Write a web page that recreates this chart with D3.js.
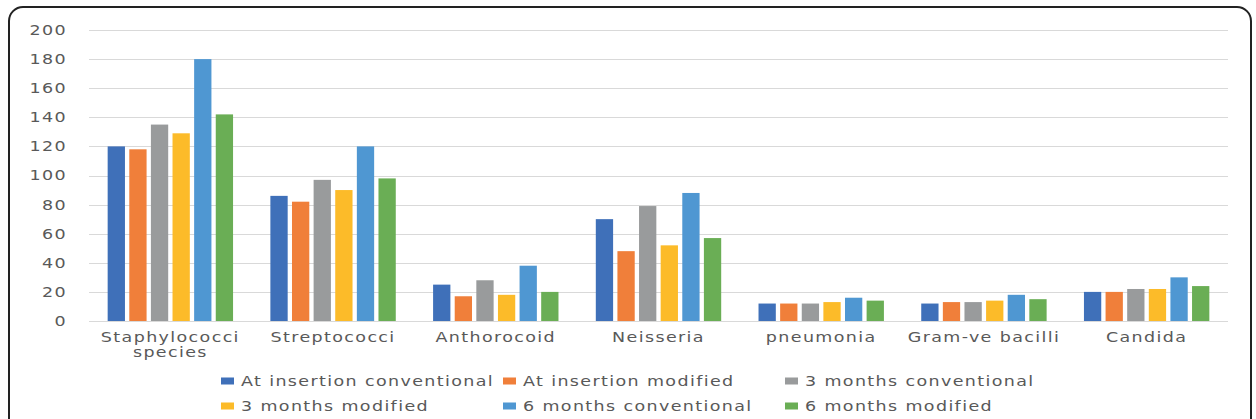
<!DOCTYPE html>
<html>
<head>
<meta charset="utf-8">
<script src="https://cdn.jsdelivr.net/npm/d3@7"></script>
<style>
  html, body { margin: 0; padding: 0; background: #fff; }
  svg { display: block; }
  text { font-family: "DejaVu Sans", sans-serif; fill: #595959; }
</style>
</head>
<body>
<svg id="chart" width="1256" height="419"></svg>
<script>
// Organisms isolated, grouped by organism, one bar per sampling time / technique
const categories = [
  ["Staphylococci", "species"],
  ["Streptococci"],
  ["Anthorocoid"],
  ["Neisseria"],
  ["pneumonia"],
  ["Gram-ve bacilli"],
  ["Candida"]
];
const seriesNames = [
  "At insertion conventional",
  "At insertion modified",
  "3 months conventional",
  "3 months modified",
  "6 months conventional",
  "6 months modified"
];
const atInsertionConventional = [120, 86, 25, 70, 12, 12, 20];
const atInsertionModified     = [118, 82, 17, 48, 12, 13, 20];
const threeMonthsConventional = [135, 97, 28, 79, 12, 13, 22];
const threeMonthsModified     = [129, 90, 18, 52, 13, 14, 22];
const sixMonthsConventional   = [180, 120, 38, 88, 16, 18, 30];
const sixMonthsModified       = [142, 98, 20, 57, 14, 15, 24];
const yTicks = [0, 20, 40, 60, 80, 100, 120, 140, 160, 180, 200];

const seriesValues = [
  atInsertionConventional, atInsertionModified,
  threeMonthsConventional, threeMonthsModified,
  sixMonthsConventional, sixMonthsModified
];
const colors = ["#3f70b9", "#f07f3a", "#999b9c", "#fcbb29", "#4f97d2", "#6aae55"];

// Wide lettering: glyphs are stretched horizontally
const stretch = 1.25;
const fontSize = 14;
const spacing = "1.1px";

const svg = d3.select("#chart");

// Rounded frame around the whole figure
svg.append("rect")
  .attr("x", 9).attr("y", 7)
  .attr("width", 1242).attr("height", 440)
  .attr("rx", 14).attr("ry", 14)
  .attr("fill", "none")
  .attr("stroke", "#222")
  .attr("stroke-width", 2);

const plot = { left: 89, right: 1228, top: 30, bottom: 321 };

const y = d3.scaleLinear().domain([0, 200]).range([plot.bottom, plot.top]);
const x0 = d3.scaleBand()
  .domain(d3.range(categories.length))
  .range([plot.left, plot.right])
  .padding(0);
const groupGap = 33;
const x1 = d3.scaleBand()
  .domain(d3.range(seriesNames.length))
  .range([groupGap / 2, x0.bandwidth() - groupGap / 2])
  .paddingInner(0.2)
  .paddingOuter(0.1);

// Horizontal gridlines
svg.append("g")
  .selectAll("line")
  .data(yTicks)
  .join("line")
  .attr("x1", plot.left).attr("x2", plot.right)
  .attr("y1", d => Math.round(y(d)) + 0.5)
  .attr("y2", d => Math.round(y(d)) + 0.5)
  .attr("stroke", "#d9d9d9")
  .attr("stroke-width", 1.2);

// Y axis labels
const yAxis = svg.append("g")
  .attr("transform", `translate(${plot.left - 22},0)`)
  .call(d3.axisLeft(y).tickValues(yTicks).tickSize(0).tickPadding(0));
yAxis.select(".domain").remove();
yAxis.selectAll("text")
  .attr("x", 0)
  .attr("font-size", fontSize)
  .attr("letter-spacing", spacing)
  .attr("font-family", "DejaVu Sans, sans-serif")
  .attr("fill", "#595959")
  .attr("transform", `scale(${stretch},1)`);

// Bars
const groups = svg.append("g")
  .selectAll("g")
  .data(categories.map((c, i) => i))
  .join("g")
  .attr("transform", i => `translate(${x0(i)},0)`);

groups.selectAll("rect")
  .data(i => seriesValues.map((vals, s) => ({ s, v: vals[i] })))
  .join("rect")
  .attr("x", d => x1(d.s))
  .attr("width", x1.bandwidth())
  .attr("y", d => y(d.v))
  .attr("height", d => y(0) - y(d.v))
  .attr("fill", d => colors[d.s]);

// Category labels
const catLabels = svg.append("g")
  .selectAll("g")
  .data(categories)
  .join("g")
  .attr("transform", (c, i) => `translate(${x0(i) + x0.bandwidth() / 2},342) scale(${stretch},1)`)
  .append("text")
  .attr("text-anchor", "middle")
  .attr("font-size", fontSize)
  .attr("letter-spacing", spacing)
  .attr("fill", "#595959");
catLabels.selectAll("tspan")
  .data(c => c)
  .join("tspan")
  .attr("x", 0)
  .attr("dy", (d, j) => j === 0 ? 0 : 15)
  .text(d => d);

// Legend: two rows of three
const legendCols = [221, 503, 785];
const legendRows = [381, 406];
const legend = svg.append("g")
  .selectAll("g")
  .data(seriesNames)
  .join("g")
  .attr("transform", (d, i) => `translate(${legendCols[i % 3]},${legendRows[Math.floor(i / 3)]})`);
legend.append("rect")
  .attr("x", 0).attr("y", -3.5)
  .attr("width", 13).attr("height", 7)
  .attr("fill", (d, i) => colors[i]);
legend.append("text")
  .attr("transform", `translate(20,5) scale(${stretch},1)`)
  .attr("font-size", fontSize)
  .attr("letter-spacing", spacing)
  .attr("fill", "#595959")
  .text(d => d);
</script>
</body>
</html>
